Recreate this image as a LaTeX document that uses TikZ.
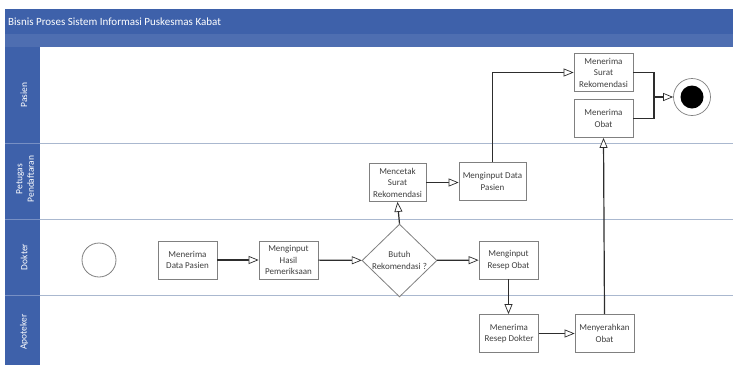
\documentclass[tikz,border=0pt]{standalone}
\usepackage{fontspec}
\setmainfont{Carlito}
\usetikzlibrary{arrows.meta,shapes.geometric}
\definecolor{hdrblue}{RGB}{62,97,170}
\definecolor{laneline}{RGB}{170,184,207}
\definecolor{boxgray}{RGB}{128,128,128}
\definecolor{txtgray}{RGB}{64,64,64}
\definecolor{connc}{RGB}{45,45,45}
\tikzset{
  stepbox/.style={draw=boxgray, line width=0.8pt, fill=white, minimum width=59pt, minimum height=38pt,
    inner sep=1pt, align=center, text=txtgray, font=\fontsize{9}{11.5}\selectfont},
  decision/.style={draw=boxgray, line width=0.8pt, fill=white, diamond, minimum width=75pt, minimum height=57pt,
    inner sep=0pt, align=center, text=txtgray, font=\fontsize{9}{11.5}\selectfont},
  lanelabel/.style={text=white, rotate=90, align=center, font=\fontsize{9.5}{11.5}\selectfont},
  flow/.style={draw=connc, line width=1.2pt, -{Triangle[open, length=10pt, width=8pt, line width=0.7pt, fill=white]}},
  plain/.style={draw=connc, line width=1.2pt},
}
\begin{document}
\begin{tikzpicture}[x=1pt, y=-1pt]
\useasboundingbox (0,0) rectangle (733,365);
\fill[white] (0,0) rectangle (733,365);
% header and lane column
\fill[hdrblue] (5,9) rectangle (733,47);
\fill[hdrblue!92!white] (5,34) rectangle (733,47);
\fill[hdrblue] (5,47) rectangle (40,365);
\node[anchor=west, text=white, font=\fontsize{11}{13}\selectfont, inner sep=0pt] (title) at (8,22) {Bisnis Proses Sistem Informasi Puskesmas Kabat};
% lane separators
\foreach \yy in {143,219,295} {
  \draw[laneline, line width=0.9pt] (40,\yy) -- (733,\yy);
  \draw[hdrblue!70!white, line width=0.6pt] (5,\yy) -- (40,\yy);
}
% lane labels
\node[lanelabel] (lpasien) at (24,95) {Pasien};
\node[lanelabel] (lpetugas) at (25,179) {Petugas\\Pendaftaran};
\node[lanelabel] (ldokter) at (24,257) {Dokter};
\node[lanelabel] (lapoteker) at (24,332) {Apoteker};
% nodes
\node[circle, draw=boxgray, line width=0.8pt, minimum size=34pt, inner sep=0pt] (start) at (99,260) {};
\node[stepbox] (dp) at (187.5,260) {Menerima\\Data Pasien};
\node[stepbox] (hp) at (288.5,260) {Menginput\\Hasil\\Pemeriksaan};
\node[decision] (dec) at (399.5,260.5) {Butuh\\Rekomendasi ?};
\node[stepbox] (ro) at (508.5,260) {Menginput\\Resep Obat};
\node[stepbox] (rd) at (509,333.5) {Menerima\\Resep Dokter};
\node[stepbox] (mo) at (604.5,333.5) {Menyerahkan\\Obat};
\node[stepbox, minimum width=57pt] (cs) at (397.5,182.5) {Mencetak\\Surat\\Rekomendasi};
\node[stepbox, minimum width=67pt] (idp) at (492.5,181.5) {Menginput Data\\Pasien};
\node[stepbox] (sr) at (603.5,72.5) {Menerima\\Surat\\Rekomendasi};
\node[stepbox] (ob) at (603.5,118.5) {Menerima\\Obat};
\node[circle, draw=boxgray, line width=0.7pt, minimum size=37pt, inner sep=0pt] (end) at (692,97) {};
\fill[black] (end.center) circle (11.5pt);
\coordinate (j) at (654,97);
% connectors
\draw[flow] (dp) -- (hp);
\draw[flow] (hp) -- (dec);
\draw[flow] (dec) -- (ro);
\draw[flow] (dec.north) -- (cs.south);
\draw[flow] (cs) -- (idp.west |- cs.east);
\draw[flow] (idp.north) |- (sr.west);
\draw[flow] (ro.south) -- (rd.north -| ro.south);
\draw[flow] (rd) -- (mo);
\draw[flow] (mo.north) -- (ob.south);
\draw[plain] (sr.east) -| (j);
\draw[plain] (ob.east) -| (j);
\draw[flow] (j) -- (end);
\end{tikzpicture}
\end{document}
